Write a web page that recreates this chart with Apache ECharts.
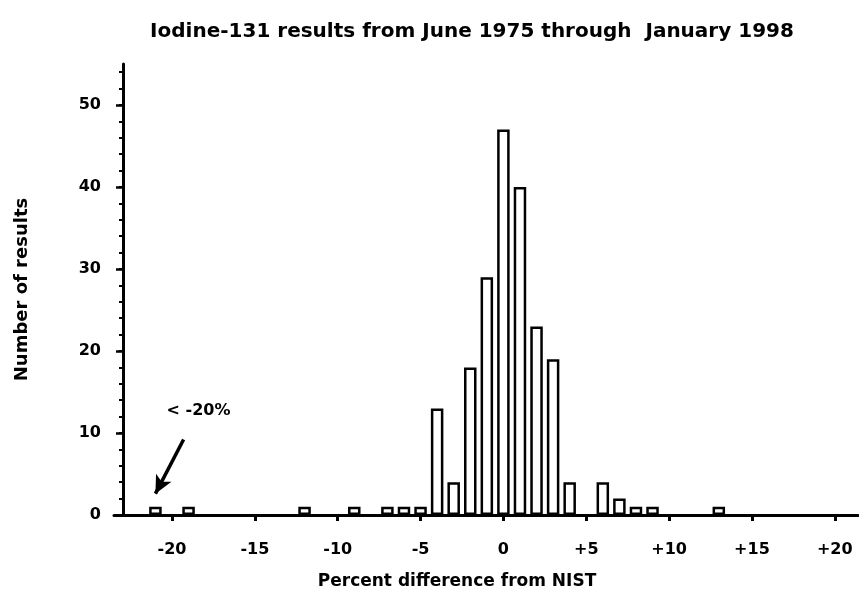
<!DOCTYPE html>
<html>
<head>
<meta charset="utf-8">
<script src="https://cdn.jsdelivr.net/npm/echarts@6/dist/echarts.min.js"></script>
<style>
html,body{margin:0;padding:0;background:#fff;}
#chart{width:859px;height:595px;}
</style>
</head>
<body>
<div id="chart"></div>
<script>
// Data
const binCenters = [-21,-19,-12,-9,-7,-6,-5,-4,-3,-2,-1,0,1,2,3,4,6,7,8,9,13];
const resultCounts = [1,1,1,1,1,1,1,13,4,18,29,47,40,23,19,4,4,2,1,1,1];
const xTickValues = [-20,-15,-10,-5,0,5,10,15,20];
const yMajorTicks = [0,10,20,30,40,50];
const yMinorTicks = [0,2,4,6,8,10,12,14,16,18,20,22,24,26,28,30,32,34,36,38,40,42,44,46,48,50,52,54];
const titleText = 'Iodine-131 results from June 1975 through  January 1998';
const xAxisName = 'Percent difference from NIST';
const yAxisName = 'Number of results';
const annotationText = '< -20%';

const FONT = "'DejaVu Sans','Liberation Sans',Arial,sans-serif";
const chart = echarts.init(document.getElementById('chart'), null, {renderer:'canvas'});

const barData = binCenters.map((x,i)=>[x, resultCounts[i]]);

chart.setOption({
  animation:false,
  backgroundColor:'#fff',
  title:{
    text:titleText,
    left:467, top:17, textAlign:'center',
    textStyle:{fontFamily:FONT,fontWeight:'bold',fontSize:20,color:'#000'}
  },
  grid:{left:114,right:1,top:64,bottom:79,containLabel:false},
  xAxis:{
    type:'value', min:-23.5, max:21.4,
    splitLine:{show:false},
    axisLine:{show:true,onZero:false,lineStyle:{color:'#000',width:3}},
    axisTick:{show:true,inside:false,length:6,lineStyle:{color:'#000',width:3},customValues:xTickValues},
    axisLabel:{show:true,margin:27,color:'#000',fontFamily:FONT,fontWeight:'bold',fontSize:16,
      customValues:xTickValues,
      formatter:v=> v>0 ? '+'+v : String(v)},
    name:xAxisName, nameLocation:'middle', nameGap:58,
    nameTextStyle:{fontFamily:FONT,fontWeight:'bold',fontSize:17,color:'#000',padding:[0,58,0,0]}
  },
  yAxis:[{
    type:'value', min:0, max:55, offset:-9, position:'left',
    splitLine:{show:false},
    axisLine:{show:true,onZero:false,lineStyle:{color:'#000',width:3}},
    axisTick:{show:true,length:7,lineStyle:{color:'#000',width:2.5},customValues:yMajorTicks},
    axisLabel:{show:true,margin:22,color:'#000',fontFamily:FONT,fontWeight:'bold',fontSize:16,customValues:yMajorTicks},
    name:yAxisName, nameLocation:'middle', nameGap:92, nameRotate:90,
    nameTextStyle:{fontFamily:FONT,fontWeight:'bold',fontSize:18,color:'#000'}
  },{
    type:'value', min:0, max:55, offset:-9, position:'left',
    splitLine:{show:false},
    axisLine:{show:false,onZero:false},
    axisTick:{show:true,length:4,lineStyle:{color:'#000',width:2},customValues:yMinorTicks},
    axisLabel:{show:false}
  }],
  series:[{
    type:'bar',
    data:barData,
    barWidth:12.5,
    itemStyle:{color:'#fff',borderColor:'#000',borderWidth:2.5},
    markLine:{
      silent:true,
      symbol:['none','arrow'],
      symbolSize:[13,18],
      label:{show:false},
      lineStyle:{color:'#000',width:3.5,type:'solid'},
      data:[[{coord:[-19.3,9.2]},{coord:[-21,2.6]}]]
    },
    markPoint:{
      silent:true,
      symbol:'circle', symbolSize:1,
      itemStyle:{color:'rgba(0,0,0,0)'},
      label:{show:true,position:'inside',formatter:annotationText,color:'#000',
        fontFamily:FONT,fontWeight:'bold',fontSize:16},
      data:[{coord:[-18.4,12.7]}]
    }
  }]
});
</script>
</body>
</html>
